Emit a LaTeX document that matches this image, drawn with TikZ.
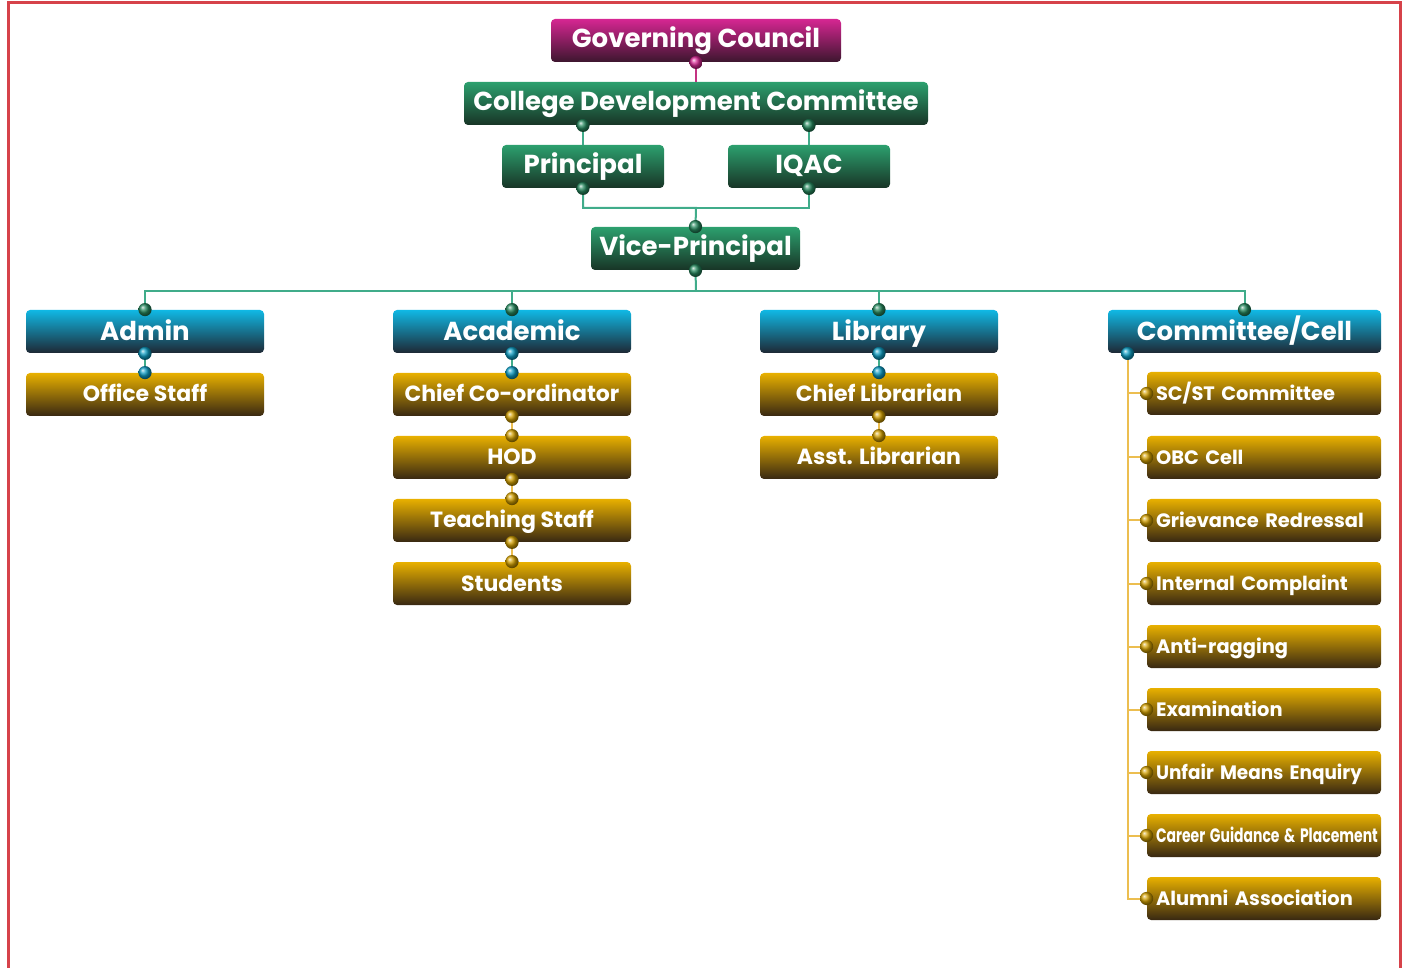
\documentclass[tikz,border=0pt]{standalone}
\usepackage{fontspec}
\setmainfont{Poppins}
\usepackage{graphicx}
\usetikzlibrary{positioning}
\definecolor{framered}{RGB}{214,66,74}
\definecolor{magtop}{RGB}{214,38,146}
\definecolor{magbot}{RGB}{60,22,46}
\definecolor{grntop}{RGB}{44,160,110}
\definecolor{grnbot}{RGB}{24,52,38}
\definecolor{blutop}{RGB}{16,184,228}
\definecolor{blubot}{RGB}{30,40,52}
\definecolor{goldtop}{RGB}{232,176,0}
\definecolor{goldbot}{RGB}{56,40,18}
\definecolor{linkgreen}{RGB}{64,172,138}
\definecolor{linkgold}{RGB}{236,190,80}
\definecolor{linkmag}{RGB}{196,50,130}

\begin{document}
\begin{tikzpicture}[
			x=0.5pt,y=-0.5pt,
			box/.style={
				rounded corners=2pt,
				minimum height=21.5pt,
				inner sep=0pt,
				text height=9.5pt,
				text depth=2.5pt,
				text=white,
				align=center,
				font=\bfseries\fontsize{13}{15}\selectfont
			},
			council/.style={box,top color=magtop,bottom color=magbot},
			board/.style={box,top color=grntop,bottom color=grnbot},
			wing/.style={box,top color=blutop,bottom color=blubot,minimum width=119pt,
				text height=12pt},
			staff/.style={box,top color=goldtop,bottom color=goldbot,minimum width=119pt,
				text height=9.5pt,text depth=2pt,
				font=\bfseries\fontsize{11}{13}\selectfont},
			cell/.style={staff,minimum width=117pt,inner xsep=4.5pt,text width=108pt,
				text height=9pt,align=left,font=\bfseries\fontsize{9.7}{12}\selectfont},
			glink/.style={draw=linkgreen,line width=1pt},
			ylink/.style={draw=linkgold,line width=1pt},
			mlink/.style={draw=linkmag,line width=1pt},
			gdot/.style={ball color=grntop!85!black},
			bdot/.style={ball color=blutop!85!black},
			ydot/.style={ball color=goldtop!90!black},
			mdot/.style={ball color=magtop}
			]
			
			\useasboundingbox (0,0) rectangle (1410,968);
			
			% Frame
			\draw[framered,line width=1.5pt] (8,968) -- (8,3) -- (1400,3) -- (1400,968);
			
			% Top of the tree
			\node[council,minimum width=145pt] (gc) at (696,40.5) {Governing Council};
			\node[board,minimum width=232pt] (cdc) at (696,103.5) {College Development Committee};
			\node[board,minimum width=81pt] (prin) at (583,166.5) {Principal};
			\node[board,minimum width=81pt] (iqac) at (809,166.5) {IQAC};
			\node[board,minimum width=104.5pt] (vp) at (695.5,248.5) {Vice-Principal};
			
			% Wings
			\node[wing] (admin) at (145,331.5) {Admin};
			\node[wing] (acad) at (512,331.5) {Academic};
			\node[wing] (lib) at (879,331.5) {Library};
			\node[wing,minimum width=136.5pt] (comm) at (1244.5,331.5) {Committee/Cell};
			
			% Admin and Academic
			\node[staff] (office) at (145,394.5) {Office Staff};
			\node[staff] (coord) at (512,394.5) {Chief Co-ordinator};
			\node[staff] (hod) at (512,457.5) {HOD};
			\node[staff] (teach) at (512,520.5) {Teaching Staff};
			\node[staff] (stud) at (512,583.5) {Students};
			
			% Library
			\node[staff] (chieflib) at (879,394.5) {Chief Librarian};
			\node[staff] (asstlib) at (879,457.5) {Asst. Librarian};
			
			% Committees and cells
			\node[cell] (scst) at (1264,393.5) {SC/ST Committee};
			\node[cell] (obc) at (1264,457.5) {OBC Cell};
			\node[cell] (griev) at (1264,520.5) {Grievance Redressal};
			\node[cell] (icc) at (1264,583.5) {Internal Complaint};
			\node[cell] (antirag) at (1264,646.5) {Anti-ragging};
			\node[cell] (exam) at (1264,709.5) {Examination};
			\node[cell] (ufm) at (1264,772.5) {\scalebox{0.95}[1]{Unfair Means Enquiry}};
			\node[cell] (career) at (1264,835.5) {\scalebox{0.72}[1]{Career Guidance \& Placement}};
			\node[cell] (alumni) at (1264,898.5) {Alumni Association};
			
			\coordinate (vpbar) at (696,208);
			\coordinate (bus) at (696,291);
			\coordinate (spine) at ([xshift=10pt]comm.south west);
			
			% Top links
			\draw[mlink] (gc.south) -- (cdc.north);
			\draw[glink] (cdc.south -| prin.north) -- (prin.north);
			\draw[glink] (cdc.south -| iqac.north) -- (iqac.north);
			\draw[glink] (prin.south) |- (vpbar) -- (vp.north);
			\draw[glink] (iqac.south) |- (vpbar);
			
			% Bus to the wings
			\draw[glink] (vp.south) -- (bus);
			\draw[glink] (admin.north) |- (bus) -| (comm.north);
			\draw[glink] (acad.north) -- (acad.north |- bus);
			\draw[glink] (lib.north) -- (lib.north |- bus);
			
			% Links inside the wings
			\draw[glink] (admin.south) -- (office.north);
			\draw[glink] (acad.south) -- (coord.north);
			\draw[ylink] (coord.south) -- (hod.north);
			\draw[ylink] (hod.south) -- (teach.north);
			\draw[ylink] (teach.south) -- (stud.north);
			\draw[glink] (lib.south) -- (chieflib.north);
			\draw[ylink] (chieflib.south) -- (asstlib.north);
			
			% Spine of the committees
			\draw[ylink] (spine) |- (alumni.west);
			\draw[ylink] (scst.west -| spine) -- (scst.west);
			\draw[ylink] (obc.west -| spine) -- (obc.west);
			\draw[ylink] (griev.west -| spine) -- (griev.west);
			\draw[ylink] (icc.west -| spine) -- (icc.west);
			\draw[ylink] (antirag.west -| spine) -- (antirag.west);
			\draw[ylink] (exam.west -| spine) -- (exam.west);
			\draw[ylink] (ufm.west -| spine) -- (ufm.west);
			\draw[ylink] (career.west -| spine) -- (career.west);
			
			% Dots
			\shade[mdot] (gc.south) circle (3.3pt);
			\shade[gdot] (cdc.south -| prin.north) circle (3.3pt);
			\shade[gdot] (cdc.south -| iqac.north) circle (3.3pt);
			\shade[gdot] (prin.south) circle (3.3pt);
			\shade[gdot] (iqac.south) circle (3.3pt);
			\shade[gdot] (vp.north) circle (3.3pt);
			\shade[gdot] (vp.south) circle (3.3pt);
			\shade[gdot] (admin.north) circle (3.3pt);
			\shade[gdot] (acad.north) circle (3.3pt);
			\shade[gdot] (lib.north) circle (3.3pt);
			\shade[gdot] (comm.north) circle (3.3pt);
			\shade[bdot] (admin.south) circle (3.3pt);
			\shade[bdot] (office.north) circle (3.3pt);
			\shade[bdot] (acad.south) circle (3.3pt);
			\shade[bdot] (coord.north) circle (3.3pt);
			\shade[bdot] (lib.south) circle (3.3pt);
			\shade[bdot] (chieflib.north) circle (3.3pt);
			\shade[bdot] (spine) circle (3.3pt);
			\shade[ydot] (coord.south) circle (3.3pt);
			\shade[ydot] (hod.north) circle (3.3pt);
			\shade[ydot] (hod.south) circle (3.3pt);
			\shade[ydot] (teach.north) circle (3.3pt);
			\shade[ydot] (teach.south) circle (3.3pt);
			\shade[ydot] (stud.north) circle (3.3pt);
			\shade[ydot] (chieflib.south) circle (3.3pt);
			\shade[ydot] (asstlib.north) circle (3.3pt);
			\shade[ydot] (scst.west) circle (3.3pt);
			\shade[ydot] (obc.west) circle (3.3pt);
			\shade[ydot] (griev.west) circle (3.3pt);
			\shade[ydot] (icc.west) circle (3.3pt);
			\shade[ydot] (antirag.west) circle (3.3pt);
			\shade[ydot] (exam.west) circle (3.3pt);
			\shade[ydot] (ufm.west) circle (3.3pt);
			\shade[ydot] (career.west) circle (3.3pt);
			\shade[ydot] (alumni.west) circle (3.3pt);
			
		\end{tikzpicture}
\end{document}
